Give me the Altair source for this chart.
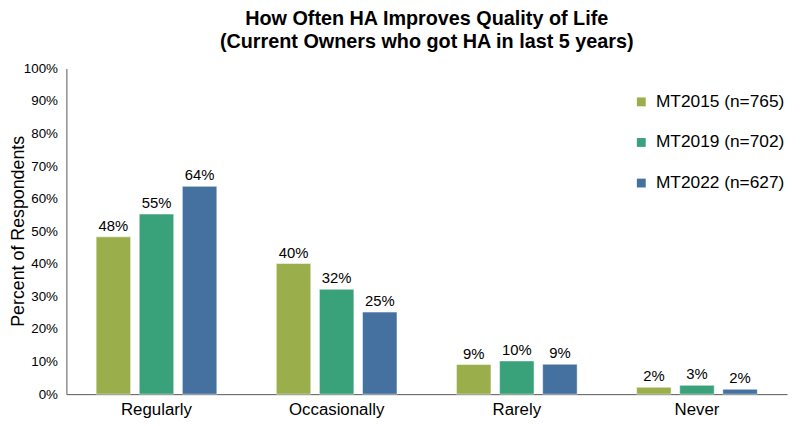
import altair as alt
import pandas as pd

categories = ["Regularly", "Occasionally", "Rarely", "Never"]
series = ["MT2015 (n=765)", "MT2019 (n=702)", "MT2022 (n=627)"]
mt2015 = [48.3, 40.1, 9.1, 2.1]
mt2019 = [55.3, 32.2, 10.2, 2.7]
mt2022 = [63.8, 25.2, 9.2, 1.5]
labels2015 = ["48%", "40%", "9%", "2%"]
labels2019 = ["55%", "32%", "10%", "3%"]
labels2022 = ["64%", "25%", "9%", "2%"]
colors = ["#9aae4c", "#3aa27a", "#44719f"]

rows = []
for s, vals, labs in zip(series, [mt2015, mt2019, mt2022], [labels2015, labels2019, labels2022]):
    for c, v, l in zip(categories, vals, labs):
        rows.append({"cat": c, "series": s, "value": v / 100.0, "label": l})
df = pd.DataFrame(rows)

font = "Liberation Sans"

x = alt.X("cat:N", sort=categories, title=None,
          scale=alt.Scale(paddingInner=0, paddingOuter=0),
          axis=alt.Axis(labelFontSize=17, labelColor="#000", labelFont=font, ticks=False,
                        domainColor="#555", labelPadding=8, labelAngle=0))
xo = alt.XOffset("series:N", sort=series,
                 scale=alt.Scale(paddingInner=0.2, paddingOuter=0.69))
y = alt.Y("value:Q", title="Percent of Respondents",
          scale=alt.Scale(domain=[0, 1]),
          axis=alt.Axis(format=".0%", values=[i / 10 for i in range(11)], grid=False,
                        ticks=False, labelFontSize=13.5, labelColor="#000", labelFont=font,
                        titleFontSize=18, titleFont=font, titleFontWeight="normal",
                        titleColor="#000", domainColor="#555", labelPadding=9,
                        titleX=-39, titleY=164, titleAlign="center", titleBaseline="bottom",
                        titleAngle=270))

bars = alt.Chart(df).mark_bar(stroke="#ffffff", strokeWidth=0.5).encode(
    x=x, xOffset=xo, y=y,
    color=alt.Color("series:N", sort=series,
                    scale=alt.Scale(domain=series, range=colors),
                    legend=alt.Legend(title=None, orient="none", legendX=572, legendY=25,
                                      symbolType="square", symbolSize=80, labelFontSize=17.5,
                                      labelFont=font, labelColor="#000", rowPadding=22,
                                      symbolStrokeWidth=0, labelOffset=6)),
)

text = alt.Chart(df).mark_text(dy=-11, fontSize=15, font=font, color="#000").encode(
    x=x, xOffset=xo, y=y, text="label:N")

chart = (bars + text).properties(
    width=728, height=329,
    title=alt.TitleParams(
        text=["How Often HA Improves Quality of Life", "(Current Owners who got HA in last 5 years)"],
        fontSize=20, font=font, fontWeight="bold", color="#000", anchor="middle",
        offset=10, lineHeight=23),
    autosize=alt.AutoSizeParams(type="none"),
    padding={"left": 59, "top": 59, "right": 5, "bottom": 22},
).configure_view(stroke=None)

chart.save("out.html", embed_options={"renderer": "svg", "actions": False})
